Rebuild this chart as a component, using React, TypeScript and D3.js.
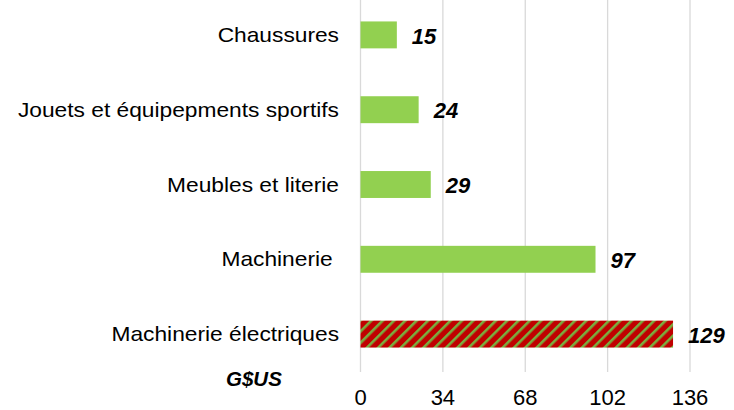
import React from "react";
import * as d3 from "d3";

const categories = [
  "Chaussures",
  "Jouets et équipepments sportifs",
  "Meubles et literie",
  "Machinerie ",
  "Machinerie électriques",
];
const values = [15, 24, 29, 97, 129];
const highlighted = [false, false, false, false, true];
const ticks = [0, 34, 68, 102, 136];
const unitLabel = "G$US";

const W = 734;
const H = 410;
const FONT = "'Liberation Sans', Arial, sans-serif";
const LABEL_STRETCH = 1.11;

export default function App() {
  const x = d3.scaleLinear().domain([0, 136]).range([360.5, 690]);
  const y = d3
    .scaleBand<string>()
    .domain(categories)
    .range([-2.5, 371.5])
    .paddingInner(0.64)
    .paddingOuter(0.32);

  return (
    <svg
      width={W}
      height={H}
      style={{ position: "absolute", left: 0, top: 0, background: "#fff" }}
    >
      <defs>
        <pattern
          id="hatch"
          patternUnits="userSpaceOnUse"
          width={8}
          height={8}
          patternTransform="rotate(45)"
        >
          <rect width={8} height={8} fill="#c00000" />
          <rect width={2.6} height={8} fill="#78b040" />
        </pattern>
      </defs>

      {/* grid */}
      {ticks.map((t) => (
        <line
          key={t}
          x1={x(t)}
          x2={x(t)}
          y1={0}
          y2={372}
          stroke="#d9d9d9"
          strokeWidth={1.3}
        />
      ))}

      {/* bars */}
      {categories.map((c, i) => {
        const y0 = y(c)!;
        const bh = y.bandwidth();
        return (
          <g key={c}>
            <rect
              x={x(0)}
              y={y0}
              width={x(values[i]) - x(0)}
              height={bh}
              fill={highlighted[i] ? "url(#hatch)" : "#92d050"}
            />
            <text
              transform={`translate(339,${y0 + bh / 2}) scale(${LABEL_STRETCH},1)`}
              dy="0.35em"
              textAnchor="end"
              fontFamily={FONT}
              fontSize={20.5}
              fill="#000"
              style={{ whiteSpace: "pre" }}
            >
              {c}
            </text>
            <text
              x={x(values[i]) + 15}
              y={y0 + bh / 2 + 1}
              dy="0.35em"
              fontFamily={FONT}
              fontSize={22}
              fontWeight="bold"
              fontStyle="italic"
              fill="#000"
            >
              {values[i]}
            </text>
          </g>
        );
      })}

      {/* axis labels */}
      {ticks.map((t) => (
        <text
          key={t}
          x={x(t)}
          y={405}
          textAnchor="middle"
          fontFamily={FONT}
          fontSize={22}
          fill="#000"
        >
          {t}
        </text>
      ))}

      <text
        x={226}
        y={386}
        fontFamily={FONT}
        fontSize={20.5}
        fontWeight="bold"
        fontStyle="italic"
        fill="#000"
      >
        {unitLabel}
      </text>
    </svg>
  );
}
